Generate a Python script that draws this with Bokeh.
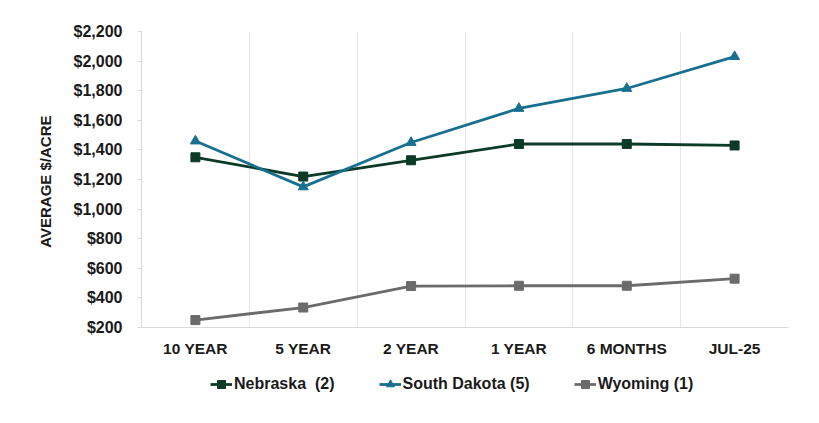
from bokeh.plotting import figure
from bokeh.layouts import column
from bokeh.models import FixedTicker, Legend, LegendItem, NumeralTickFormatter, Range1d
from bokeh.embed import file_html
from bokeh.resources import INLINE

categories = ["10 YEAR", "5 YEAR", "2 YEAR", "1 YEAR", "6 MONTHS", "JUL-25"]
nebraska = [1350, 1220, 1330, 1440, 1440, 1430]
south_dakota = [1460, 1150, 1450, 1680, 1815, 2030]
wyoming = [250, 335, 480, 482, 482, 530]
series_names = ["Nebraska  (2)", "South Dakota (5)", "Wyoming (1)"]
y_ticks = [200, 400, 600, 800, 1000, 1200, 1400, 1600, 1800, 2000, 2200]

FONT = "Liberation Sans"
xs = [i + 0.5 for i in range(len(categories))]
colors = ["#0b3a27", "#17708f", "#6b6b6b"]
markers = ["square", "triangle", "square"]
msizes = [9, 10, 9]
series = [nebraska, south_dakota, wyoming]

p = figure(width=803, height=361, output_backend="svg", toolbar_location=None,
           x_range=Range1d(0, len(categories)), y_range=Range1d(200, 2200),
           min_border_left=141, min_border_top=31, min_border_right=15, min_border_bottom=34)
p.outline_line_color = None
p.background_fill_color = "white"
p.border_fill_color = "white"

for vals, c, m, s in zip(series, colors, markers, msizes):
    p.line(xs, vals, line_color=c, line_width=2.8)
    p.scatter(xs, vals, marker=m, size=s, color=c)

# axes
p.xaxis.ticker = FixedTicker(ticks=xs)
p.xaxis.major_label_overrides = {x: c for x, c in zip(xs, categories)}
p.xaxis.major_tick_line_color = None
p.xaxis.minor_tick_line_color = None
p.xaxis.axis_line_color = "#d9d9d9"
p.xaxis.major_label_standoff = 6
p.xaxis.major_label_text_font = FONT
p.xaxis.major_label_text_font_style = "bold"
p.xaxis.major_label_text_font_size = "15.5px"
p.xaxis.major_label_text_color = "#1a1a1a"

p.yaxis.ticker = FixedTicker(ticks=y_ticks)
p.yaxis.formatter = NumeralTickFormatter(format="$0,0")
p.yaxis.axis_line_color = "#d9d9d9"
p.yaxis.major_tick_line_color = "#d9d9d9"
p.yaxis.major_tick_out = 4
p.yaxis.major_tick_in = 0
p.yaxis.minor_tick_line_color = None
p.yaxis.major_label_standoff = 15
p.yaxis.major_label_text_font = FONT
p.yaxis.major_label_text_font_style = "bold"
p.yaxis.major_label_text_font_size = "16px"
p.yaxis.major_label_text_color = "#1a1a1a"
p.yaxis.axis_label = "AVERAGE  $/ACRE"
p.yaxis.axis_label_text_font = FONT
p.yaxis.axis_label_text_font_style = "bold"
p.yaxis.axis_label_text_font_size = "15px"
p.yaxis.axis_label_text_color = "#1a1a1a"
p.yaxis.axis_label_standoff = 17

p.ygrid.grid_line_color = None
p.xgrid.ticker = FixedTicker(ticks=list(range(len(categories) + 1)))
p.xgrid.grid_line_color = "#e6e6e6"
p.xgrid.grid_line_width = 1

# legend strip (its own figure, data kept outside its view so only the legend shows)
lg = figure(width=803, height=50, output_backend="svg", toolbar_location=None,
            x_range=Range1d(100, 101), y_range=Range1d(100, 101),
            min_border=0)
lg.axis.visible = False
lg.grid.visible = False
lg.outline_line_color = None
items = []
for name, vals, c, m, s in zip(series_names, series, colors, markers, msizes):
    rl = lg.line(xs, vals, line_color=c, line_width=2.8)
    rm = lg.scatter(xs, vals, marker=m, size=s - 1, color=c)
    items.append(LegendItem(label=name, renderers=[rl, rm]))
legend = Legend(items=items, orientation="horizontal", location=(69, 17))
legend.label_text_font = FONT
legend.label_text_font_style = "bold"
legend.label_text_font_size = "16px"
legend.label_text_color = "#1a1a1a"
legend.glyph_width = 22
legend.label_standoff = 2
legend.spacing = 44
legend.border_line_color = None
legend.background_fill_alpha = 0
legend.padding = 0
legend.margin = 0
lg.add_layout(legend, "center")

layout = column(p, lg, spacing=0)
open("out.html", "w").write(file_html(layout, INLINE))
